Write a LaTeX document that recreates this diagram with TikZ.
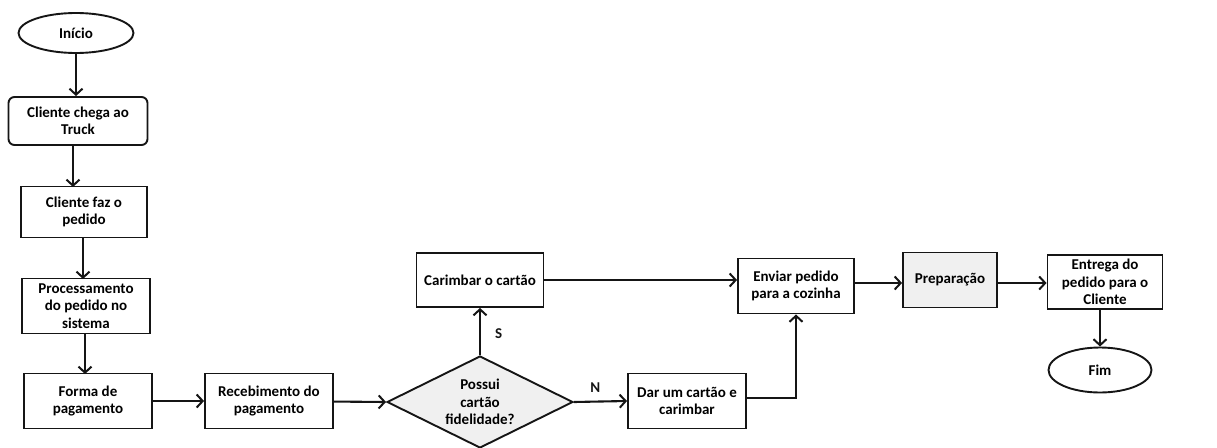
\documentclass[tikz,border=0pt]{standalone}
\usepackage{fontspec}
\setmainfont{Carlito}
\usepackage{tikz}
\usetikzlibrary{arrows.meta,positioning,shapes.geometric}
\definecolor{linex}{HTML}{151515}
\definecolor{softgray}{HTML}{F0F0F0}
\tikzset{
  ar/.style={-{Straight Barb[length=6pt,width=13pt,line width=2pt]},line width=2.1pt,linex},
  box/.style={draw=linex,line width=1.9pt,fill=white,align=center,inner sep=2pt,font=\bfseries\fontsize{15}{17.5}\selectfont},
  term/.style={box,ellipse},
  cond/.style={box,diamond,aspect=2,fill=softgray,inner sep=0pt},
  lbl/.style={font=\bfseries\fontsize{15}{17}\selectfont,inner sep=0pt}
}
\begin{document}
\begin{tikzpicture}[x=1pt,y=-1pt]
\useasboundingbox (0,0) rectangle (1217,447);
\node[term,minimum width=115pt,minimum height=40pt] (ini) at (76,33) {Início};
\node[box,rounded corners=6pt,minimum width=139pt,minimum height=48pt] (cheg) at (78,121) {Cliente chega ao\\Truck};
\node[box,minimum width=126pt,minimum height=51pt] (faz) at (84,212) {Cliente faz o\\pedido};
\node[box,minimum width=128pt,minimum height=55pt] (proc) at (86,306) {Processamento\\do pedido no\\sistema};
\node[box,minimum width=128pt,minimum height=55pt] (forma) at (88,401) {Forma de\\pagamento};
\node[box,minimum width=128pt,minimum height=55pt] (receb) at (269,401) {Recebimento do\\pagamento};
\node[cond,minimum width=186pt,minimum height=92pt] (dec) at (480,402) {Possui\\cartão\\fidelidade?};
\node[box,minimum width=127pt,minimum height=54pt] (carim) at (480,280) {Carimbar o cartão};
\node[box,minimum width=118pt,minimum height=55pt] (dar) at (687,401) {Dar um cartão e\\carimbar};
\node[box,minimum width=116pt,minimum height=55pt] (env) at (796,286) {Enviar pedido\\para a cozinha};
\node[box,fill=softgray,minimum width=94pt,minimum height=55pt] (prep) at (950,280) {Preparação};
\node[box,minimum width=115pt,minimum height=54pt] (entr) at (1105,282) {Entrega do\\pedido para o\\Cliente};
\node[term,minimum width=103pt,minimum height=45pt] (fim) at (1100,370) {Fim};
% fluxo principal
\draw[ar] (ini.south) -- (ini.south |- cheg.north);
\draw[ar] (73,145) -- (73,187);
\draw[ar] (83,238) -- (83,279);
\draw[ar] (85,334) -- (85,374);
\draw[ar] (forma) -- (receb);
\draw[ar] (receb) -- (dec.west);
\draw[ar] (dec.north) -- (carim.south) node[lbl,pos=0.45,right=14pt] {S};
\draw[ar] (dec.east) -- (dar.west) node[lbl,pos=0.4,above=8pt] {N};
\draw[ar] (carim.east) -- (carim.east -| env.west);
\draw[ar] (dar.east |- 0,398) -| (env.south);
\draw[ar] (env.east |- 0,283) -- (prep.west |- 0,283);
\draw[ar] (prep.east |- 0,283) -- (entr.west |- 0,283);
\draw[ar] (entr.south -| fim.north) -- (fim.north);
\end{tikzpicture}
\end{document}
